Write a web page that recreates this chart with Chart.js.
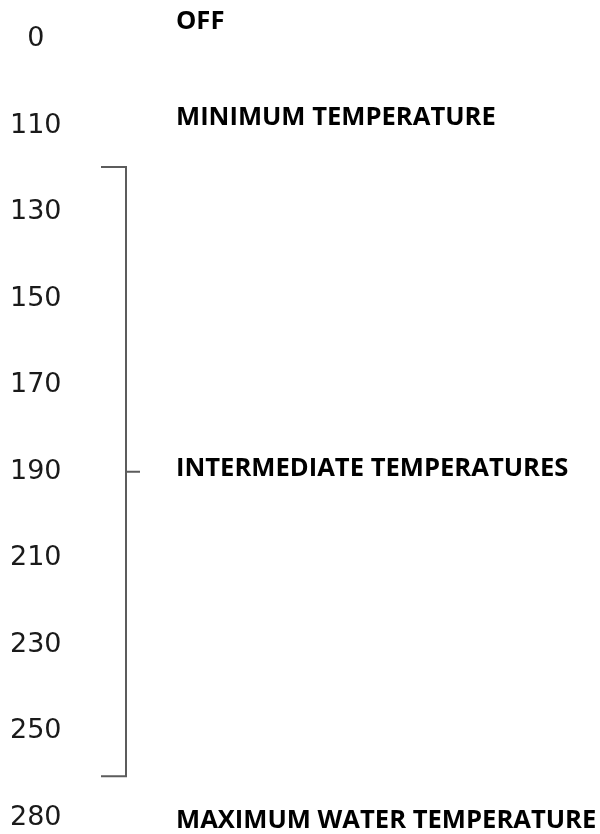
<!DOCTYPE html>
<html>
<head>
<meta charset="utf-8">
<script src="https://cdn.jsdelivr.net/npm/chart.js@4.4.1/dist/chart.umd.min.js"></script>
<style>
  html, body { margin: 0; padding: 0; background: #fff; }
  #wrap { width: 600px; height: 834px; }
</style>
</head>
<body>
<div id="wrap"><canvas id="dial"></canvas></div>
<script>
// dial positions, top to bottom
var temperatures = ['0', '110', '130', '150', '170', '190', '210', '230', '250', '280'];
var settingNames = ['OFF', 'MINIMUM TEMPERATURE', '', '', '', 'INTERMEDIATE TEMPERATURES', '', '', '', 'MAXIMUM WATER TEMPERATURE'];
// span covered by the bracket, and where its middle tick points
var intermediateRange = ['130', '250'];
var intermediateMark = '190';

// ─── bracket + setting names, placed on the y scale ─────────────────────
var dialPlugin = {
    id: 'dialLabels',
    afterDraw: function (chart, args, opts) {
        var ctx = chart.ctx;
        var y = chart.scales.y;
        var step = y.getPixelForValue(1) - y.getPixelForValue(0);
        var top = y.getPixelForValue(temperatures.indexOf(intermediateRange[0])) - step * opts.overhang;
        var bottom = y.getPixelForValue(temperatures.indexOf(intermediateRange[1])) + step * opts.overhang;
        var mid = y.getPixelForValue(temperatures.indexOf(intermediateMark));

        ctx.save();
        ctx.strokeStyle = opts.bracketColor;
        ctx.lineWidth = 2;
        ctx.beginPath();
        ctx.moveTo(opts.bracketX - opts.armLength, top);
        ctx.lineTo(opts.bracketX, top);
        ctx.lineTo(opts.bracketX, bottom);
        ctx.lineTo(opts.bracketX - opts.armLength, bottom);
        ctx.moveTo(opts.bracketX, mid);
        ctx.lineTo(opts.bracketX + opts.tickLength, mid);
        ctx.stroke();

        ctx.fillStyle = '#000';
        ctx.font = opts.font;
        ctx.textAlign = 'left';
        ctx.textBaseline = 'middle';
        settingNames.forEach(function (name, i) {
            if (!name) return;
            ctx.fillText(name, opts.labelX, y.getPixelForValue(i) + (opts.shift[i] || 0));
        });
        ctx.restore();
    }
};

new Chart(document.getElementById('dial'), {
    type: 'scatter',
    data: {
        labels: temperatures,
        datasets: [{ data: [] }]
    },
    options: {
        responsive: true,
        maintainAspectRatio: false,
        animation: false,
        layout: { padding: { top: 39, bottom: 16, left: 10, right: 0 } },
        plugins: {
            legend: { display: false },
            tooltip: { enabled: false },
            dialLabels: {
                overhang: 0.52,
                bracketX: 126,
                armLength: 25,
                tickLength: 14,
                bracketColor: '#5c5c5c',
                labelX: 176,
                font: 'bold 25.6px "Open Sans"',
                shift: [-17, -8, 0, 0, 0, -3, 0, 0, 0, 3]
            }
        },
        scales: {
            x: { type: 'linear', display: false, min: 0, max: 1 },
            y: {
                type: 'category',
                labels: temperatures,
                offset: false,
                border: { display: false },
                grid: { display: false },
                ticks: {
                    color: '#1a1a1a',
                    padding: 0,
                    crossAlign: 'center',
                    autoSkip: false,
                    font: { family: 'DejaVu Sans', size: 27 }
                }
            }
        }
    },
    plugins: [dialPlugin]
});
</script>
</body>
</html>
